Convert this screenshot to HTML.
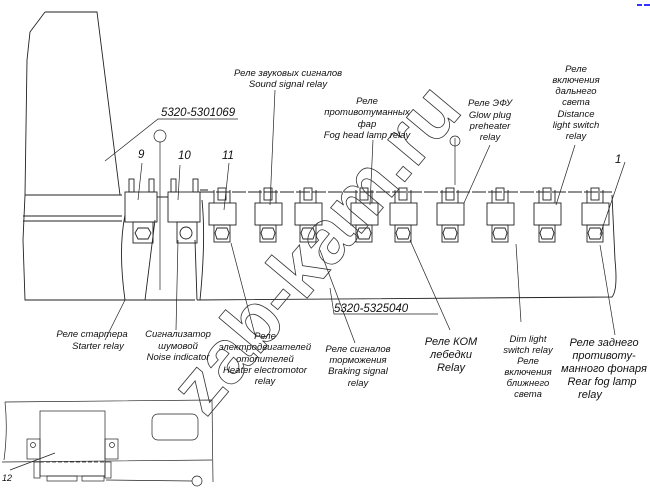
<!DOCTYPE html>
<html><head><meta charset="utf-8"><style>
html,body{margin:0;padding:0;background:#fff;}
svg{display:block;}
text{font-family:"Liberation Sans","DejaVu Sans",sans-serif;font-style:italic;fill:#111;}
</style></head><body>
<svg width="650" height="493" viewBox="0 0 650 493" xmlns="http://www.w3.org/2000/svg">
<defs>
<g id="r" stroke="#222" stroke-width="0.9" fill="none"><rect x="-13" y="203" width="27" height="22"/><rect x="-4" y="188" width="8" height="12"/>
<path d="M-8,190 L-8,203 M8,190 L8,203"/><rect x="-8" y="225" width="16" height="17"/>
<polygon points="-5,228 5,228 7,233 5,239 -5,239 -7,233"/></g>
</defs>
<g stroke="#222" stroke-width="0.9" fill="none">
<path d="M45,12 L97,12 L120,195"/>
<path d="M45,12 L30,32 L27,60 L25,195 L23,240 L25,300 L125,300"/>
<path d="M25,195 L122,195 M23,216 L122,216 M23,221 L122,221"/>
<path d="M122,300 L195,300 M197,300 L612,297 Q618,290 615,260 L612,195"/>
<path d="M125,215 Q118,250 125,300 M195,240 L197,300"/>
<path d="M200,192 L612,192" stroke-dasharray="14 2"/>
<rect x="125" y="192" width="32" height="30"/><rect x="168" y="192" width="32" height="30"/>
<rect x="129" y="179" width="5" height="13"/><rect x="149" y="179" width="5" height="13"/>
<rect x="171" y="179" width="5" height="13"/><rect x="193" y="179" width="5" height="13"/>
<rect x="133" y="222" width="20" height="21"/><rect x="177" y="222" width="20" height="21"/>
<polygon points="138,228 148,228 151,233 148,239 138,239 135,233"/>
<circle cx="186" cy="233" r="6"/>
<path d="M157,197 L168,197 M200,190 L208,190"/>
<path d="M155,220 Q150,260 145,300 M202,200 Q206,240 200,300"/>
</g>
<use href="#r" x="222"/><use href="#r" x="268"/><use href="#r" x="308"/><use href="#r" x="364"/>
<use href="#r" x="403"/><use href="#r" x="450"/><use href="#r" x="500"/><use href="#r" x="547"/><use href="#r" x="595"/>
<g stroke="#222" stroke-width="0.7" fill="none">
<path d="M105,161 L158,119 L238,119"/>
<path d="M142,163 L138,200 M180,165 L178,200 M229,163 L224,210"/>
<circle cx="160" cy="136" r="6"/><path d="M160,142 L160,290"/>
<path d="M275,90 L270,205"/>
<path d="M373,140 L370,205"/>
<path d="M455,138 L455,185"/><circle cx="455" cy="141" r="5"/>
<path d="M490,145 L464,203"/>
<path d="M575,145 L556,205"/>
<path d="M625,162 L600,235"/>
<path d="M125,300 L105,340 M178,240 L176,330 M231,243 L255,335"/>
<path d="M320,250 L355,343"/>
<path d="M410,240 L450,330"/><path d="M516,244 L521,322"/><path d="M600,245 L615,335"/>
<path d="M330,288 L334,314 L438,314"/>
<path d="M5,402 L212,400 L213,482 M212,460 L2,462 M5,402 Q8,430 4,460"/>
<rect x="40" y="411" width="65" height="65"/>
<rect x="27" y="439" width="13" height="20"/><rect x="105" y="439" width="13" height="20"/>
<circle cx="33" cy="445" r="2.5"/><circle cx="112" cy="445" r="2.5"/>
<path d="M40,462 L105,462" stroke-dasharray="4 2"/>
<rect x="34" y="462" width="6" height="16"/><rect x="105" y="462" width="6" height="16"/>
<rect x="47" y="476" width="30" height="5"/><rect x="82" y="476" width="22" height="5"/>
<rect x="152" y="414" width="46" height="26" rx="6"/>
<path d="M10,470 L55,453 M106,480 L192,481"/><circle cx="197" cy="481" r="5"/>
</g>
<text x="0" y="0" transform="translate(335,265) rotate(-50)" font-size="76" font-weight="bold" text-anchor="middle" style="fill:none;stroke:#333;stroke-width:0.8;font-style:normal">zab-kam.ru</text>
<g font-size="9.5" text-anchor="middle">
<text x="288" y="76">Реле звуковых сигналов</text><text x="288" y="87">Sound signal relay</text>
<text x="367" y="104">Реле</text><text x="367" y="115">противотуманных</text><text x="367" y="127">фар</text><text x="367" y="138">Fog head lamp relay</text>
<text x="490" y="106">Реле ЭФУ</text><text x="490" y="118">Glow plug</text><text x="490" y="129">preheater</text><text x="490" y="140">relay</text>
<text x="576" y="72">Реле</text><text x="576" y="83">включения</text><text x="576" y="94">дальнего</text><text x="576" y="105">света</text><text x="576" y="117">Distance</text><text x="576" y="128">light switch</text><text x="576" y="139">relay</text>
<text x="92" y="337">Реле стартера</text><text x="98" y="349">Starter relay</text>
<text x="178" y="337">Сигнализатор</text><text x="178" y="349">шумовой</text><text x="178" y="360">Noise indicator</text>
<text x="265" y="339">Реле</text><text x="265" y="350">электродвигателей</text><text x="265" y="362">отопителей</text><text x="265" y="373">Heater electromotor</text><text x="265" y="384">relay</text>
<text x="358" y="352">Реле сигналов</text><text x="358" y="363">торможения</text><text x="358" y="374">Braking signal</text><text x="358" y="386">relay</text>
<text x="528" y="342">Dim light</text><text x="528" y="353">switch relay</text><text x="528" y="364">Реле</text><text x="528" y="375">включения</text><text x="528" y="386">ближнего</text><text x="528" y="397">света</text>
</g>
<g font-size="11" text-anchor="middle">
<text x="451" y="345">Реле КОМ</text><text x="451" y="358">лебедки</text><text x="451" y="371">Relay</text>
<text x="604" y="346">Реле заднего</text><text x="604" y="359">противоту-</text><text x="604" y="372">манного фонаря</text><text x="602" y="385">Rear fog lamp</text><text x="590" y="398">relay</text>
</g>
<g font-size="11.5">
<text x="161" y="116">5320-5301069</text>
<text x="334" y="312">5320-5325040</text>
<text x="138" y="158">9</text><text x="178" y="159">10</text><text x="222" y="159">11</text><text x="615" y="163">1</text>
<text x="2" y="481" font-size="9">12</text>
</g>
<path d="M637,5 L642,5 M644,5 L650,5" stroke="#33f" stroke-width="2"/>
</svg>
</body></html>
